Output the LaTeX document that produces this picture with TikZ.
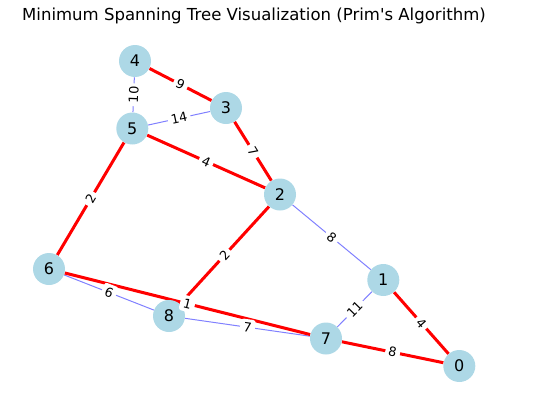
\documentclass[tikz,border=0pt]{standalone}
\usepackage{fontspec}
\setmainfont{DejaVu Sans}
\usetikzlibrary{backgrounds}
\definecolor{nodeblue}{HTML}{ADD8E6}
\definecolor{edgeblue}{HTML}{8080FF}
\begin{document}
\begin{tikzpicture}[x=0.75pt,y=-0.75pt,
  vtx/.style={circle, fill=nodeblue, minimum size=24pt, inner sep=0pt, font=\fontsize{12}{14}\selectfont},
  mst/.style={draw=red, line width=2.25pt},
  other/.style={draw=edgeblue, line width=0.75pt},
  wlab/.style={fill=white, sloped, midway, inner sep=2.5pt, rounded corners=2pt, font=\fontsize{9.6}{11}\selectfont}]
\useasboundingbox (0,0) rectangle (554,400);
\node[anchor=base, font=\fontsize{12.4}{14}\selectfont] (title) at (254,20) {Minimum Spanning Tree Visualization (Prim\textquotesingle s Algorithm)};
\node[vtx] (n0) at (459.3,366) {0};
\node[vtx] (n1) at (383.3,280) {1};
\node[vtx] (n2) at (280,194.5) {2};
\node[vtx] (n3) at (226,108) {3};
\node[vtx] (n4) at (135,61) {4};
\node[vtx] (n5) at (132.3,128.5) {5};
\node[vtx] (n6) at (49,269) {6};
\node[vtx] (n7) at (326,338.5) {7};
\node[vtx] (n8) at (169,316) {8};
\begin{pgfonlayer}{background}
\draw[other] (n4) -- (n5);
\draw[other] (n5) -- (n3);
\draw[other] (n2) -- (n1);
\draw[other] (n6) -- (n8);
\draw[other] (n8) -- (n7);
\draw[other] (n1) -- (n7);
\draw[mst] (n4) -- (n3);
\draw[mst] (n3) -- (n2);
\draw[mst] (n5) -- (n2);
\draw[mst] (n5) -- (n6);
\draw[mst] (n2) -- (n8);
\draw[mst] (n6) -- (n7);
\draw[mst] (n1) -- (n0);
\draw[mst] (n7) -- (n0);
\end{pgfonlayer}
\path (n4) -- (n3) node[wlab] {9};
\path (n4) -- (n5) node[wlab] {10};
\path (n5) -- (n3) node[wlab] {14};
\path (n3) -- (n2) node[wlab] {7};
\path (n5) -- (n2) node[wlab] {4};
\path (n5) -- (n6) node[wlab] {2};
\path (n2) -- (n8) node[wlab] {2};
\path (n2) -- (n1) node[wlab] {8};
\path (n6) -- (n8) node[wlab] {6};
\path (n6) -- (n7) node[wlab] {1};
\path (n8) -- (n7) node[wlab] {7};
\path (n1) -- (n7) node[wlab] {11};
\path (n1) -- (n0) node[wlab] {4};
\path (n7) -- (n0) node[wlab] {8};
\end{tikzpicture}
\end{document}
